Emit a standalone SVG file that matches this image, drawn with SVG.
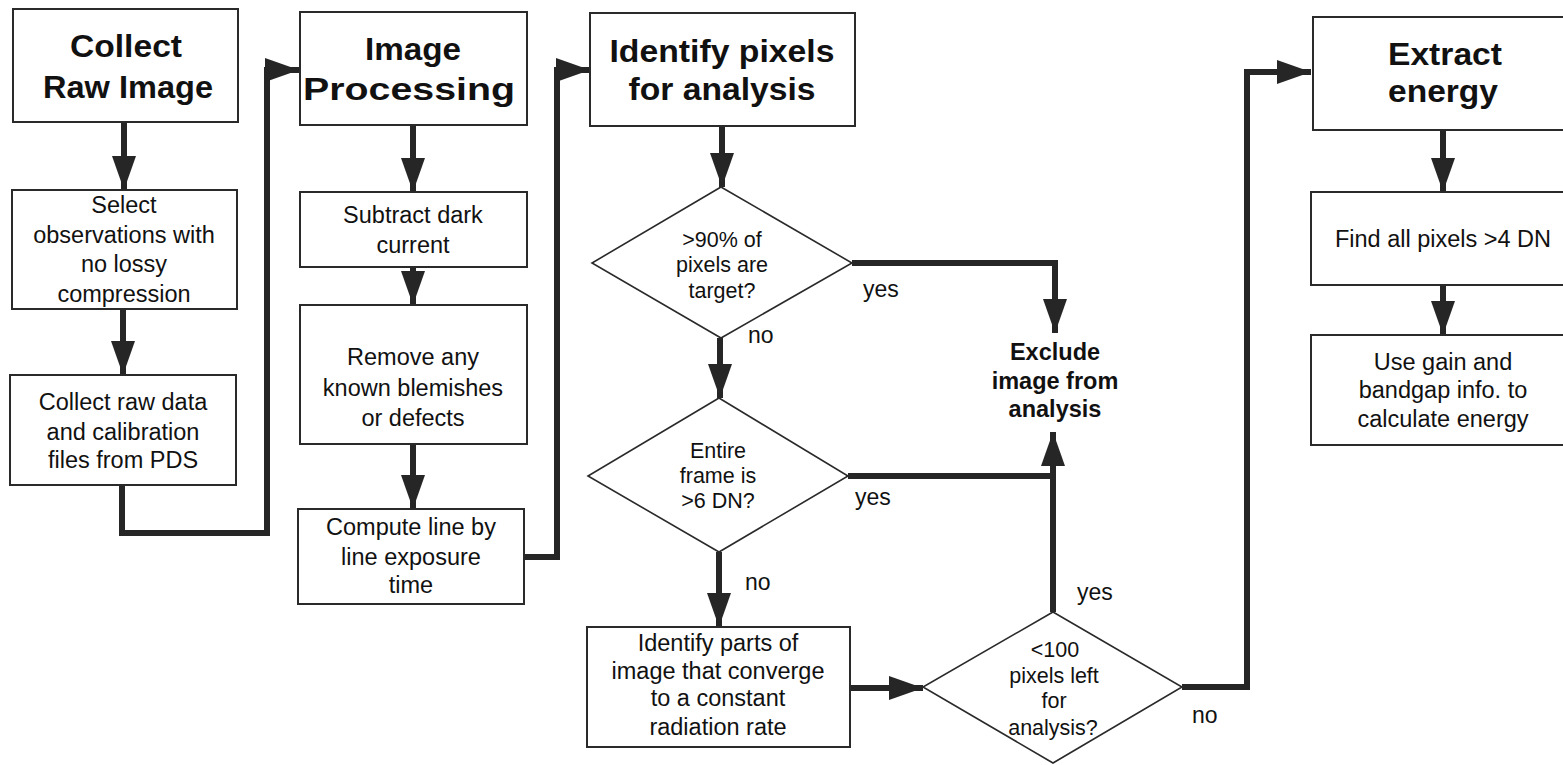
<svg xmlns="http://www.w3.org/2000/svg" width="1563" height="765" viewBox="0 0 1563 765">
<defs>
<style>
.box{fill:#fff;stroke:#2a2a2a;stroke-width:2}
.dia{fill:#fff;stroke:#2a2a2a;stroke-width:1.6}
.con{fill:none;stroke:#262626;stroke-width:6}
text{font-family:"Liberation Sans",Arial,sans-serif;fill:#111;text-anchor:middle}
.h{font-size:32px;font-weight:bold}
.b{font-size:23.5px}
.d{font-size:21.5px}
.l{font-size:23px;text-anchor:start}
.x{font-size:23.5px;font-weight:bold}
</style>
<marker id="ah" markerUnits="userSpaceOnUse" markerWidth="36" markerHeight="26" refX="34" refY="12" orient="auto">
<path d="M0,0 L34,12 L0,24 z" fill="#262626"/>
</marker>
</defs>
<rect width="1563" height="765" fill="#fff"/>

<g id="connectors">
<path class="con" d="M124,122 V190" marker-end="url(#ah)"/>
<path class="con" d="M123,309 V375" marker-end="url(#ah)"/>
<path class="con" d="M122,485 V533 H267 V70 H299" marker-end="url(#ah)"/>
<path class="con" d="M413,125 V192" marker-end="url(#ah)"/>
<path class="con" d="M413,267 V305" marker-end="url(#ah)"/>
<path class="con" d="M413,444 V509" marker-end="url(#ah)"/>
<path class="con" d="M524,557 H557 V70 H590" marker-end="url(#ah)"/>
<path class="con" d="M722,126 V187" marker-end="url(#ah)"/>
<path class="con" d="M720,338 V398" marker-end="url(#ah)"/>
<path class="con" d="M719,552 V627" marker-end="url(#ah)"/>
<path class="con" d="M850,688 H923" marker-end="url(#ah)"/>
<path class="con" d="M852,263 H1055 V333" marker-end="url(#ah)"/>
<path class="con" d="M848,476 H1053"/>
<path class="con" d="M1053,612 V432" marker-end="url(#ah)"/>
<path class="con" d="M1182,687 H1247 V72 H1311" marker-end="url(#ah)"/>
<path class="con" d="M1443,130 V192" marker-end="url(#ah)"/>
<path class="con" d="M1443,285 V335" marker-end="url(#ah)"/>
</g>

<g id="collect-raw-image">
<rect class="box" x="13" y="9" width="225" height="113"/>
<text class="h" x="126" y="57" textLength="112" lengthAdjust="spacingAndGlyphs">Collect</text>
<text class="h" x="128" y="98" textLength="170" lengthAdjust="spacingAndGlyphs">Raw Image</text>
</g>
<g id="select-observations">
<rect class="box" x="12" y="190" width="225" height="119"/>
<text class="b" x="124" y="213">Select</text>
<text class="b" x="124" y="243">observations with</text>
<text class="b" x="124" y="272">no lossy</text>
<text class="b" x="124" y="302">compression</text>
</g>
<g id="collect-raw-data">
<rect class="box" x="10" y="375" width="226" height="110"/>
<text class="b" x="123" y="410">Collect raw data</text>
<text class="b" x="123" y="440">and calibration</text>
<text class="b" x="123" y="468">files from PDS</text>
</g>

<g id="image-processing">
<rect class="box" x="300" y="12" width="227" height="113"/>
<text class="h" x="413" y="60" textLength="96" lengthAdjust="spacingAndGlyphs">Image</text>
<text class="h" x="409" y="100" textLength="212" lengthAdjust="spacingAndGlyphs">Processing</text>
</g>
<g id="subtract-dark">
<rect class="box" x="300" y="192" width="227" height="75"/>
<text class="b" x="413" y="223">Subtract dark</text>
<text class="b" x="413" y="253">current</text>
</g>
<g id="remove-blemishes">
<rect class="box" x="300" y="305" width="227" height="139"/>
<text class="b" x="413" y="365">Remove any</text>
<text class="b" x="413" y="396">known blemishes</text>
<text class="b" x="413" y="426">or defects</text>
</g>
<g id="compute-exposure">
<rect class="box" x="298" y="509" width="226" height="95"/>
<text class="b" x="411" y="535">Compute line by</text>
<text class="b" x="411" y="565">line exposure</text>
<text class="b" x="411" y="593">time</text>
</g>

<g id="identify-pixels">
<rect class="box" x="590" y="13" width="265" height="113"/>
<text class="h" x="722" y="62" textLength="225" lengthAdjust="spacingAndGlyphs">Identify pixels</text>
<text class="h" x="722" y="100" textLength="187" lengthAdjust="spacingAndGlyphs">for analysis</text>
</g>
<g id="decision-target">
<polygon class="dia" points="721,187 852,263 721,338 592,263"/>
<text class="d" x="722" y="247">&gt;90% of</text>
<text class="d" x="722" y="272">pixels are</text>
<text class="d" x="722" y="298">target?</text>
</g>
<g id="decision-frame">
<polygon class="dia" points="719,398 848,476 719,552 588,476"/>
<text class="d" x="718" y="458">Entire</text>
<text class="d" x="718" y="483">frame is</text>
<text class="d" x="718" y="508">&gt;6 DN?</text>
</g>
<g id="identify-parts">
<rect class="box" x="587" y="627" width="263" height="120"/>
<text class="b" x="718" y="651">Identify parts of</text>
<text class="b" x="718" y="679">image that converge</text>
<text class="b" x="718" y="706">to a constant</text>
<text class="b" x="718" y="735">radiation rate</text>
</g>
<g id="decision-pixels-left">
<polygon class="dia" points="1053,612 1182,687 1053,763 923,687"/>
<text class="d" x="1055" y="657">&lt;100</text>
<text class="d" x="1054" y="683">pixels left</text>
<text class="d" x="1054" y="708">for</text>
<text class="d" x="1053" y="735">analysis?</text>
</g>
<g id="exclude-image">
<text class="x" x="1055" y="360">Exclude</text>
<text class="x" x="1055" y="389">image from</text>
<text class="x" x="1055" y="417">analysis</text>
</g>

<g id="extract-energy">
<rect class="box" x="1313" y="17" width="262" height="113"/>
<text class="h" x="1445" y="65" textLength="114" lengthAdjust="spacingAndGlyphs">Extract</text>
<text class="h" x="1443" y="102" textLength="110" lengthAdjust="spacingAndGlyphs">energy</text>
</g>
<g id="find-pixels">
<rect class="box" x="1311" y="192" width="264" height="93"/>
<text class="b" x="1443" y="247">Find all pixels &gt;4 DN</text>
</g>
<g id="use-gain">
<rect class="box" x="1311" y="335" width="264" height="110"/>
<text class="b" x="1443" y="370">Use gain and</text>
<text class="b" x="1443" y="398">bandgap info. to</text>
<text class="b" x="1443" y="427">calculate energy</text>
</g>

<g id="labels">
<text class="l" x="863" y="297">yes</text>
<text class="l" x="748" y="343">no</text>
<text class="l" x="855" y="505">yes</text>
<text class="l" x="745" y="590">no</text>
<text class="l" x="1077" y="600">yes</text>
<text class="l" x="1192" y="723">no</text>
</g>
</svg>
